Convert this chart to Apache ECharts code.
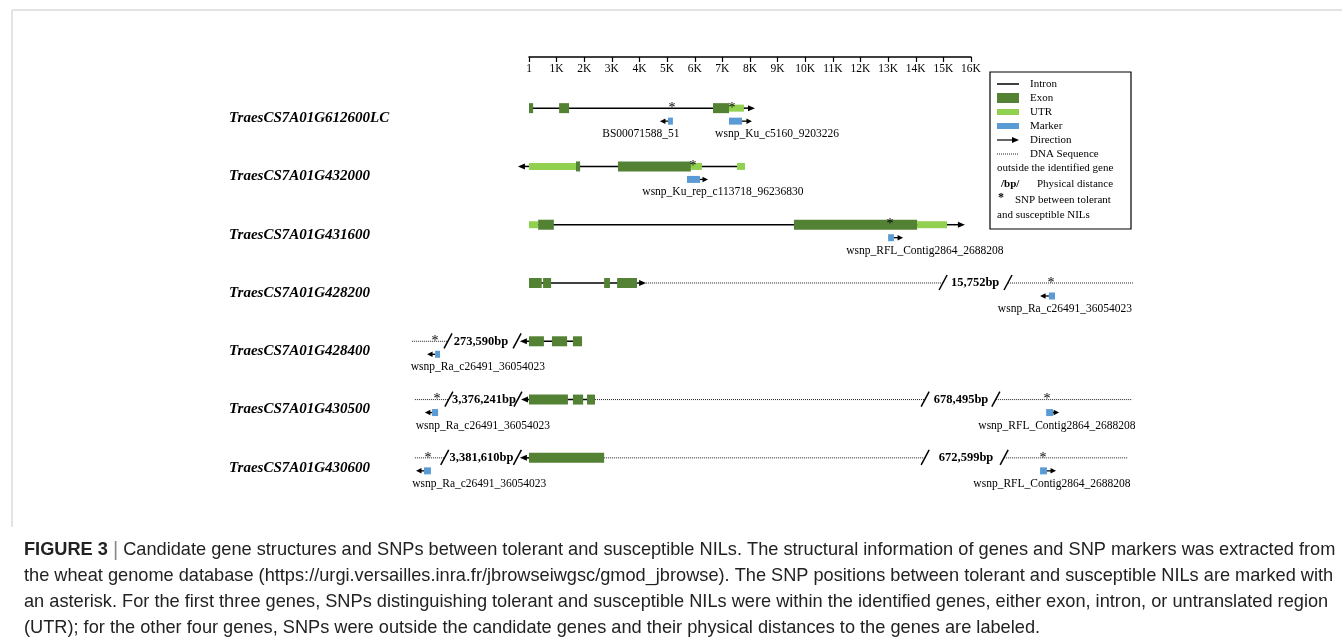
<!DOCTYPE html>
<html><head><meta charset="utf-8">
<script src="https://cdn.jsdelivr.net/npm/echarts@6/dist/echarts.min.js"></script>
<style>html,body{margin:0;padding:0;background:#fff}#c{width:1342px;height:639px}</style>
</head><body><div id="c"></div>
<script>
// ---------------- DATA ----------------
const genes = ['TraesCS7A01G612600LC','TraesCS7A01G432000','TraesCS7A01G431600','TraesCS7A01G428200','TraesCS7A01G428400','TraesCS7A01G430500','TraesCS7A01G430600'];
const axisTickLabels = ['1','1K','2K','3K','4K','5K','6K','7K','8K','9K','10K','11K','12K','13K','14K','15K','16K'];
// [gene, start bp, end bp]
const exons = [[0,0,150],[0,1090,1450],[0,6660,7240],
  [1,1700,1850],[1,3220,5860],
  [2,330,900],[2,9590,14050],
  [3,0,460],[3,510,800],[3,2720,2930],[3,3190,3910],
  [4,0,540],[4,830,1380],[4,1590,1920],
  [5,0,1410],[5,1590,1960],[5,2100,2390],
  [6,0,2720]];
const utrs = [[0,7240,7780],[1,0,1700],[1,5860,6260],[1,7530,7820],[2,0,330],[2,14050,15130]];
const introns = [[0,0,7780],[1,0,7820],[2,0,15130],[3,0,3910],[4,0,1920],[5,0,2390]];
// direction arrows [gene, from, to]
const directions = [[0,7780,8180],[1,0,-400],[2,15130,15780],[3,3910,4240],[4,0,-330],[5,0,-290],[6,0,-330]];
// dotted DNA sequence outside the gene [gene, from, to]
const dnaSeq = [[3,4240,14990],[3,17340,21860],
  [4,-4240,-2930],
  [5,-4130,-2900],[5,2390,14340],[5,16900,21830],
  [6,-4130,-3050],[6,2720,14340],[6,17200,21680]];
// break slashes [gene, position]
const breaks = [[3,14990],[3,17340],[4,-2930],[4,-430],[5,-2900],[5,-400],[5,14340],[5,16900],[6,-3050],[6,-420],[6,14340],[6,17200]];
// physical distance labels [gene, centre, text]
const distances = [[3,16150,'15,752bp'],[4,-1740,'273,590bp'],[5,-1630,'3,376,241bp'],[5,15640,'678,495bp'],[6,-1720,'3,381,610bp'],[6,15820,'672,599bp']];
// SNPs [gene, position]
const snps = [[0,5180],[0,7350],[1,5940],[2,13070],[3,18900],[4,-3400],[5,-3330],[5,18750],[6,-3660],[6,18610]];
// markers [gene, start, end, arrow tip]
const markers = [[0,5030,5210,4740],[0,7240,7710,8070],[1,5720,6190,6480],[2,13000,13210,13540],[3,18820,19040,18500],
  [4,-3400,-3220,-3690],[5,-3510,-3290,-3770],[5,18720,18970,19190],[6,-3800,-3550,-4090],[6,18500,18750,19080]];
// marker names [gene, centre, name]
const markerNames = [[0,4050,'BS00071588_51'],[0,8980,'wsnp_Ku_c5160_9203226'],[1,7020,'wsnp_Ku_rep_c113718_96236830'],
  [2,14330,'wsnp_RFL_Contig2864_2688208'],[3,19400,'wsnp_Ra_c26491_36054023'],[4,-1850,'wsnp_Ra_c26491_36054023'],
  [5,-1670,'wsnp_Ra_c26491_36054023'],[5,19110,'wsnp_RFL_Contig2864_2688208'],[6,-1800,'wsnp_Ra_c26491_36054023'],[6,18930,'wsnp_RFL_Contig2864_2688208']];

// ---------------- LAYOUT / STYLE ----------------
const EXON = '#548235', UTR = '#92D050', MARK = '#5B9BD5';
const SERIF = '"Liberation Serif", "Times New Roman", serif';
const AX_LEFT = 529, AX_W = 442, AX_MAX = 16000;
const PX = AX_W / AX_MAX;
const G_LEFT = 400, G_W = 740;
const X_MIN = (G_LEFT - AX_LEFT) / PX, X_MAX = X_MIN + G_W / PX;

function coord(api, x, g) { return api.coord([x, g]); }
function mk(name, arr, fn, z) {
  return { type: 'custom', name, xAxisIndex: 0, yAxisIndex: 0, clip: false, silent: true, z: z || 2,
    data: arr.map(d => [d[0], d[1]]), encode: { x: 1, y: 0 },
    renderItem: (params, api) => fn(arr[params.dataIndex], api) };
}
function boxes(h, color) {
  return (d, api) => {
    const a = coord(api, d[1], d[0]), b = coord(api, d[2], d[0]);
    return { type: 'rect', shape: { x: a[0], y: a[1] - h / 2, width: b[0] - a[0], height: h }, style: { fill: color } };
  };
}
function arrow(x0, x1, y, head, w, lw) {
  const s = Math.sign(x1 - x0);
  return [
    { type: 'line', shape: { x1: x0, y1: y, x2: x1 - s * head * 0.6, y2: y }, style: { stroke: '#000', lineWidth: lw } },
    { type: 'polygon', shape: { points: [[x1, y], [x1 - s * head, y - w / 2], [x1 - s * head, y + w / 2]] }, style: { fill: '#000' } }
  ];
}

const series = [
  mk('dna', dnaSeq, (d, api) => {
    const a = coord(api, d[1], d[0]), b = coord(api, d[2], d[0]);
    return { type: 'line', shape: { x1: a[0], y1: a[1], x2: b[0], y2: b[1] }, style: { stroke: '#222', lineWidth: 1, lineDash: [1, 1] } };
  }, 1),
  mk('intron', introns, (d, api) => {
    const a = coord(api, d[1], d[0]), b = coord(api, d[2], d[0]);
    return { type: 'line', shape: { x1: a[0], y1: a[1], x2: b[0], y2: b[1] }, style: { stroke: '#000', lineWidth: 1.5 } };
  }, 1),
  mk('direction', directions, (d, api) => {
    const a = coord(api, d[1], d[0]), b = coord(api, d[2], d[0]);
    return { type: 'group', children: arrow(a[0], b[0], a[1], 7, 6, 1.5) };
  }, 2),
  mk('exon', exons, boxes(10, EXON), 3),
  mk('utr', utrs, boxes(7, UTR), 3),
  mk('break', breaks, (d, api) => {
    const p = coord(api, d[1], d[0]);
    return { type: 'line', shape: { x1: p[0] - 4, y1: p[1] + 7, x2: p[0] + 4, y2: p[1] - 8 }, style: { stroke: '#000', lineWidth: 1.5 } };
  }, 4),
  mk('distance', distances, (d, api) => {
    const p = coord(api, d[1], d[0]);
    return { type: 'text', x: p[0], y: p[1], style: { text: d[2], font: 'bold 12.5px ' + SERIF, align: 'center', verticalAlign: 'middle', fill: '#000' } };
  }, 4),
  mk('snp', snps, (d, api) => {
    const p = coord(api, d[1], d[0]);
    return { type: 'text', x: p[0], y: p[1], style: { text: '*', font: '14px ' + SERIF, align: 'center', verticalAlign: 'middle', fill: '#000' } };
  }, 4),
  mk('marker', markers, (d, api) => {
    const a = coord(api, d[1], d[0]), b = coord(api, d[2], d[0]), t = coord(api, d[3], d[0]);
    const y = a[1] + 13;
    const from = (t[0] < a[0]) ? a[0] : b[0];
    return { type: 'group', children: [
      { type: 'rect', shape: { x: a[0], y: y - 3.5, width: b[0] - a[0], height: 7 }, style: { fill: MARK } }
    ].concat(arrow(from, t[0], y, 5.5, 5.5, 1.3)) };
  }, 4),
  mk('markerName', markerNames, (d, api) => {
    const p = coord(api, d[1], d[0]);
    return { type: 'text', x: p[0], y: p[1] + 26, style: { text: d[2], font: '11.5px ' + SERIF, align: 'center', verticalAlign: 'middle', fill: '#000' } };
  }, 4)
];

// ---------------- LEGEND & CAPTION (graphic) ----------------
const LX = 997, TX = 1030;
function ltext(x, y, t, extra) { return { type: 'text', x, y, style: Object.assign({ text: t, font: '11px ' + SERIF, verticalAlign: 'middle', fill: '#000' }, extra || {}) }; }
const legend = [
  { type: 'rect', shape: { x: 990, y: 72, width: 141, height: 157 }, style: { fill: '#fff', stroke: '#000', lineWidth: 1.2 } },
  { type: 'line', shape: { x1: LX, y1: 84, x2: LX + 22, y2: 84 }, style: { stroke: '#000', lineWidth: 1.5 } },
  ltext(TX, 84, 'Intron'),
  { type: 'rect', shape: { x: LX, y: 93, width: 22, height: 10 }, style: { fill: EXON } },
  ltext(TX, 98, 'Exon'),
  { type: 'rect', shape: { x: LX, y: 109, width: 22, height: 6 }, style: { fill: UTR } },
  ltext(TX, 112, 'UTR'),
  { type: 'rect', shape: { x: LX, y: 123, width: 22, height: 6 }, style: { fill: MARK } },
  ltext(TX, 126, 'Marker'),
  { type: 'line', shape: { x1: LX, y1: 140, x2: LX + 16, y2: 140 }, style: { stroke: '#000', lineWidth: 1.2 } },
  { type: 'polygon', shape: { points: [[LX + 22, 140], [LX + 15, 137], [LX + 15, 143]] }, style: { fill: '#000' } },
  ltext(TX, 140, 'Direction'),
  { type: 'line', shape: { x1: LX, y1: 154, x2: LX + 22, y2: 154 }, style: { stroke: '#222', lineWidth: 1, lineDash: [1, 1] } },
  ltext(TX, 154, 'DNA Sequence'),
  ltext(LX, 168, 'outside the identified gene'),
  ltext(1001, 184, '/bp/', { font: 'bold 11px ' + SERIF }),
  ltext(1037, 184, 'Physical distance'),
  ltext(998, 198, '*', { font: 'bold 12px ' + SERIF }),
  ltext(1015, 200, 'SNP between tolerant'),
  ltext(LX, 215, 'and susceptible NILs')
];
const captionLines = [
  '{b|FIGURE 3} {bar||} Candidate gene structures and SNPs between tolerant and susceptible NILs. The structural information of genes and SNP markers was extracted from',
  'the wheat genome database (https://urgi.versailles.inra.fr/jbrowseiwgsc/gmod_jbrowse). The SNP positions between tolerant and susceptible NILs are marked with',
  'an asterisk. For the first three genes, SNPs distinguishing tolerant and susceptible NILs were within the identified genes, either exon, intron, or untranslated region',
  '(UTR); for the other four genes, SNPs were outside the candidate genes and their physical distances to the genes are labeled.'
];
const CAP_FONT = '"Liberation Sans", Arial, sans-serif';
const CAP_SIZE = 18.2;
const graphic = [
  { type: 'line', shape: { x1: 12, y1: 10, x2: 1342, y2: 10 }, style: { stroke: '#c8c8c8', lineWidth: 1 } },
  { type: 'line', shape: { x1: 12, y1: 10, x2: 12, y2: 527 }, style: { stroke: '#c8c8c8', lineWidth: 1 } },
  { type: 'group', children: legend },
  { type: 'text', x: 24, y: 537, style: { text: captionLines.join('\n'), fontFamily: CAP_FONT, fontSize: CAP_SIZE, lineHeight: 26, fill: '#222',
      rich: { b: { fontFamily: CAP_FONT, fontSize: CAP_SIZE, fontWeight: 'bold', lineHeight: 26, fill: '#222' },
              bar: { fontFamily: CAP_FONT, fontSize: CAP_SIZE + 2, lineHeight: 26, fill: '#888' } } } }
];

const option = {
  animation: false,
  backgroundColor: '#fff',
  grid: [
    { left: G_LEFT, width: G_W, top: 79, height: 408 },
    { left: AX_LEFT, width: AX_W, top: 40, height: 17 }
  ],
  xAxis: [
    { type: 'value', gridIndex: 0, min: X_MIN, max: X_MAX, show: false },
    { type: 'value', gridIndex: 1, min: 0, max: AX_MAX, interval: 1000, position: 'bottom',
      axisLine: { show: true, lineStyle: { color: '#000', width: 1.5 } },
      axisTick: { show: true, length: 5, lineStyle: { color: '#000', width: 1.2 } },
      splitLine: { show: false },
      axisLabel: { margin: 6, color: '#000', fontFamily: SERIF, fontSize: 11.5, showMinLabel: true, showMaxLabel: true,
        formatter: (v) => axisTickLabels[Math.round(v / 1000)] } }
  ],
  yAxis: [
    { type: 'category', gridIndex: 0, data: genes, inverse: true,
      axisLine: { show: false }, axisTick: { show: false }, splitLine: { show: false },
      axisLabel: { margin: G_LEFT - 229, align: 'left', verticalAlign: 'top', lineHeight: 20, color: '#000', fontFamily: SERIF, fontSize: 15, fontWeight: 'bold', fontStyle: 'italic' } },
    { type: 'value', gridIndex: 1, show: false }
  ],
  series,
  graphic
};
const chart = echarts.init(document.getElementById('c'));
chart.setOption(option);
</script></body></html>
